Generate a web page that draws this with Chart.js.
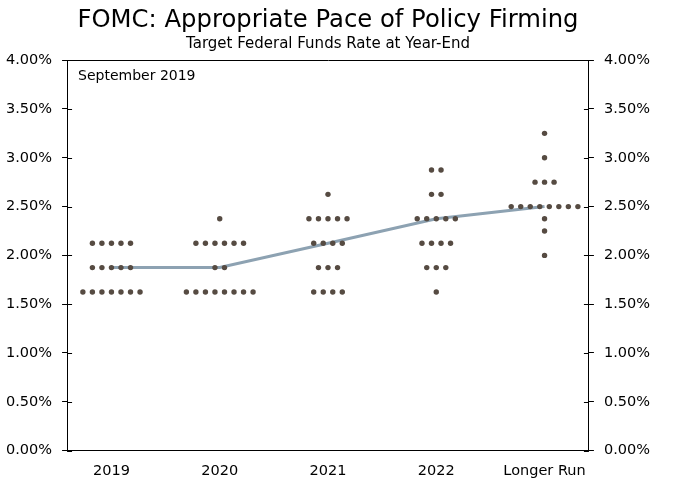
<!DOCTYPE html>
<html>
<head>
<meta charset="utf-8">
<script src="https://cdn.jsdelivr.net/npm/chart.js@4/dist/chart.umd.min.js"></script>
<style>
  html, body { margin: 0; padding: 0; background: #ffffff; }
  #wrap { width: 673px; height: 497px; }
</style>
</head>
<body>
<div id="wrap"><canvas id="dotChart"></canvas></div>
<script>
// categories along the x axis
const categories = ["2019", "2020", "2021", "2022", "Longer Run"];

// rate levels (percent) and number of participants at each level
const rates2019 = [2.125, 1.875, 1.625];
const counts2019 = [5, 5, 7];

const rates2020 = [2.375, 2.125, 1.875, 1.625];
const counts2020 = [1, 6, 2, 8];

const rates2021 = [2.625, 2.375, 2.125, 1.875, 1.625];
const counts2021 = [1, 5, 4, 3, 4];

const rates2022 = [2.875, 2.625, 2.375, 2.125, 1.875, 1.625];
const counts2022 = [2, 2, 5, 4, 3, 1];

const ratesLonger = [3.25, 3.0, 2.75, 2.5, 2.375, 2.25, 2.0];
const countsLonger = [1, 1, 3, 8, 1, 1, 1];

// median projection line
const medians = [1.875, 1.875, 2.125, 2.375, 2.5];

// y axis ticks
const yTicks = [0, 0.5, 1, 1.5, 2, 2.5, 3, 3.5, 4];

const allRates = [rates2019, rates2020, rates2021, rates2022, ratesLonger];
const allCounts = [counts2019, counts2020, counts2021, counts2022, countsLonger];

// horizontal spacing between dots in the same row (x units)
const dotStep = 0.088;

function buildDots() {
  const points = [];
  allRates.forEach(function(rates, catIndex) {
    rates.forEach(function(rate, i) {
      const n = allCounts[catIndex][i];
      for (let j = 0; j < n; j++) {
        points.push({ x: catIndex + (j - (n - 1) / 2) * dotStep, y: rate });
      }
    });
  });
  return points;
}

const medianPoints = medians.map(function(m, i) {
  return { x: i, y: m };
});

const fontFamily = "'DejaVu Sans', Verdana, sans-serif";
const dotColor = "#564b42";
const lineColor = "#8da2b2";

// inner half of y tick marks and the vintage label
const framePlugin = {
  id: "framePlugin",
  afterDraw(chart) {
    const ctx = chart.ctx;
    const area = chart.chartArea;
    const y = chart.scales.y;
    ctx.save();
    ctx.strokeStyle = "#000000";
    ctx.lineWidth = 1;
    ctx.beginPath();
    yTicks.forEach(function(t) {
      const py = Math.round(y.getPixelForValue(t)) + 0.5;
      ctx.moveTo(area.left, py);
      ctx.lineTo(area.left + 5, py);
      ctx.moveTo(area.right - 5, py);
      ctx.lineTo(area.right, py);
    });
    ctx.stroke();
    ctx.fillStyle = "#000000";
    ctx.font = "14px " + fontFamily;
    ctx.textBaseline = "middle";
    ctx.fillText("September 2019", area.left + 11, area.top + 16);
    ctx.restore();
  }
};

function yAxis(position, drawArea) {
  return {
    type: "linear",
    position: position,
    min: 0,
    max: 4,
    afterBuildTicks: function(axis) {
      axis.ticks = yTicks.map(function(v) { return { value: v }; });
    },
    ticks: {
      padding: 10,
      color: "#000000",
      font: { family: fontFamily, size: 14.5 },
      callback: function(v) { return v.toFixed(2) + "%"; }
    },
    grid: {
      drawOnChartArea: drawArea,
      tickLength: 5,
      tickColor: "#000000",
      color: function(c) {
        if (c.tick && (c.tick.value === 0 || c.tick.value === 4)) {
          return "#000000";
        }
        return "rgba(0,0,0,0)";
      }
    },
    border: { display: true, color: "#000000", width: 1 }
  };
}

const canvas = document.getElementById("dotChart");
const ctx = canvas.getContext("2d");

new Chart(ctx, {
  data: {
    datasets: [
      {
        type: "scatter",
        label: "Participants",
        data: buildDots(),
        pointRadius: 2.7,
        pointBackgroundColor: dotColor,
        pointBorderWidth: 0,
        order: 1
      },
      {
        type: "line",
        label: "Median",
        data: medianPoints,
        borderColor: lineColor,
        borderWidth: 3,
        pointRadius: 0,
        fill: false,
        tension: 0,
        order: 2
      }
    ]
  },
  options: {
    responsive: true,
    maintainAspectRatio: false,
    animation: false,
    layout: { padding: { left: -4, right: 13, top: 0, bottom: 5 } },
    plugins: {
      legend: { display: false },
      tooltip: { enabled: false },
      title: {
        display: true,
        text: "FOMC: Appropriate Pace of Policy Firming",
        color: "#000000",
        font: { family: fontFamily, size: 24.3, weight: "normal" },
        padding: { top: 6, bottom: 0 }
      },
      subtitle: {
        display: true,
        text: "Target Federal Funds Rate at Year-End",
        color: "#000000",
        font: { family: fontFamily, size: 15 },
        padding: { top: 0, bottom: 7 }
      }
    },
    scales: {
      x: {
        type: "linear",
        min: -0.41,
        max: 4.41,
        afterBuildTicks: function(axis) {
          axis.ticks = categories.map(function(c, i) { return { value: i }; });
        },
        ticks: {
          padding: 12,
          color: "#000000",
          font: { family: fontFamily, size: 14.5 },
          callback: function(v) { return categories[v]; }
        },
        grid: { display: false, drawTicks: false },
        border: { display: true, color: "#000000", width: 1 }
      },
      y: yAxis("left", true),
      y2: yAxis("right", false)
    }
  },
  plugins: [framePlugin]
});
</script>
</body>
</html>
